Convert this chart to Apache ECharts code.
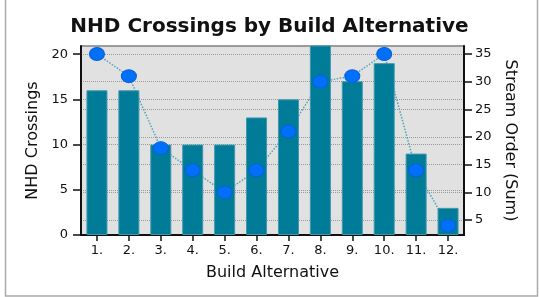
<!DOCTYPE html>
<html>
<head>
<meta charset="utf-8">
<script src="https://cdn.jsdelivr.net/npm/echarts@6/dist/echarts.min.js"></script>
<style>
  html, body { margin: 0; padding: 0; background: #fff; }
  #chart { width: 539px; height: 297px; }
</style>
</head>
<body>
<div id="chart"></div>
<script>
// categories and values
var alternatives = ['1.', '2.', '3.', '4.', '5.', '6.', '7.', '8.', '9.', '10.', '11.', '12.'];
var nhdCrossings = [16, 16, 10, 10, 10, 13, 15, 21, 17, 19, 9, 3];
var streamOrderSum = [35, 31, 18, 14, 10, 14, 21, 30, 31, 35, 14, 4];
var leftTicks = [0, 5, 10, 15, 20];
var rightTicks = [5, 10, 15, 20, 25, 30, 35];

var font = 'DejaVu Sans';
var myChart = echarts.init(document.getElementById('chart'));

var option = {
  animation: false,
  textStyle: { fontFamily: font },
  title: {
    text: 'NHD Crossings by Build Alternative',
    left: 'center',
    top: 12,
    textStyle: { fontFamily: font, fontSize: 20, fontWeight: 'bold', color: '#111' }
  },
  // outer frame
  graphic: [{
    type: 'rect',
    shape: { x: 5.5, y: -2, width: 532, height: 298 },
    style: { fill: 'none', stroke: '#aaa', lineWidth: 1.5 },
    silent: true
  }],
  grid: {
    left: 81, right: 75, top: 46, bottom: 62,
    show: true,
    backgroundColor: '#e1e1e1',
    borderColor: '#808080',
    borderWidth: 1.5
  },
  xAxis: {
    type: 'category',
    data: alternatives,
    name: 'Build Alternative',
    nameLocation: 'middle',
    nameGap: 30,
    nameTextStyle: { fontSize: 16, color: '#111' },
    axisLine: { lineStyle: { color: '#111', width: 2 } },
    axisTick: { show: true, alignWithLabel: true, length: 6, lineStyle: { color: '#111', width: 1.5 } },
    axisLabel: { interval: 0, margin: 9, fontSize: 13, color: '#111' },
    splitLine: { show: false }
  },
  yAxis: [
    {
      type: 'value',
      min: 0,
      max: 20.9,
      interval: 5,
      name: 'NHD Crossings',
      nameLocation: 'middle',
      nameGap: 34,
      nameTextStyle: { fontSize: 16, color: '#111' },
      axisLine: { show: true, lineStyle: { color: '#111', width: 2 } },
      axisTick: { show: true, length: 8, customValues: leftTicks, lineStyle: { color: '#111', width: 1.5 } },
      axisLabel: { margin: 13, fontSize: 13, color: '#111', customValues: leftTicks },
      splitLine: { show: true, lineStyle: { color: '#9a9a9a', type: 'dotted', width: 1 } }
    },
    {
      type: 'value',
      min: 2.3,
      max: 36.45,
      splitNumber: 7,
      position: 'right',
      name: 'Stream Order (Sum)',
      nameLocation: 'middle',
      nameRotate: -90,
      nameGap: 35,
      nameTextStyle: { fontSize: 16, color: '#111' },
      axisLine: { show: true, lineStyle: { color: '#111', width: 2 } },
      axisTick: { show: true, length: 8, customValues: rightTicks, lineStyle: { color: '#111', width: 1.5 } },
      axisLabel: { margin: 11, fontSize: 13, color: '#111', customValues: rightTicks },
      splitLine: { show: true, lineStyle: { color: '#9a9a9a', type: 'dotted', width: 1 } }
    }
  ],
  series: [
    {
      name: 'NHD Crossings',
      type: 'bar',
      yAxisIndex: 0,
      barWidth: 21,
      z: 3,
      itemStyle: { color: '#007b98', borderColor: '#3d98ae', borderWidth: 1 },
      data: nhdCrossings
    },
    {
      // dotted connector, drawn behind the bars
      name: 'Stream Order (Sum)',
      type: 'line',
      yAxisIndex: 1,
      z: 2,
      symbol: 'none',
      lineStyle: { color: '#4ea6b8', width: 1.5, type: 'dotted' },
      data: streamOrderSum
    },
    {
      // markers on top of the bars
      name: 'Stream Order (Sum) points',
      type: 'scatter',
      yAxisIndex: 1,
      z: 4,
      symbol: 'circle',
      symbolSize: [15, 13],
      itemStyle: { color: '#0070fa', borderColor: '#0a60d8', borderWidth: 1, opacity: 1 },
      data: streamOrderSum
    }
  ]
};
myChart.setOption(option);
</script>
</body>
</html>
